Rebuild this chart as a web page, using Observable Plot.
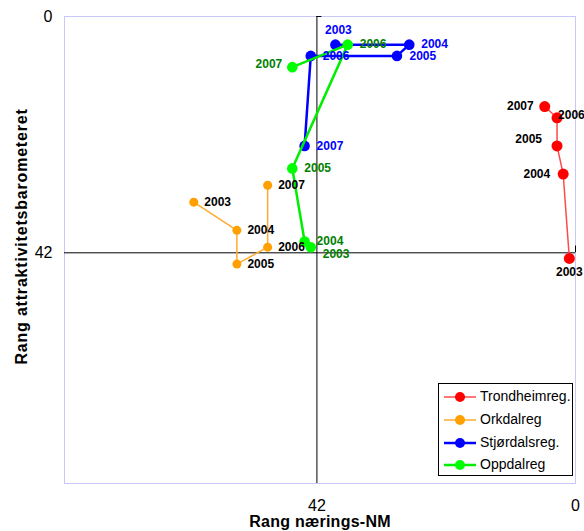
<!DOCTYPE html>
<html><head><meta charset="utf-8">
<script src="https://cdn.jsdelivr.net/npm/d3@7"></script>
<script src="https://cdn.jsdelivr.net/npm/@observablehq/plot@0.6"></script>
<style>
body{margin:0;background:#fff;font-family:"Liberation Sans",Arial,sans-serif;}
#wrap{position:relative;width:584px;height:531px;overflow:hidden;}
#legend{position:absolute;left:438px;top:383px;width:133px;height:91px;border:1px solid #000;background:#fff;}
.row{position:absolute;left:0;height:22px;width:133px;}
.row svg{position:absolute;left:4px;top:5px;}
.row span{position:absolute;left:41px;top:2px;font-size:14px;color:#000;white-space:nowrap;}
</style></head><body><div id="wrap"></div>
<script>
// ---- data ----
const years = [2003, 2004, 2005, 2006, 2007];
const regions = ["Trondheimreg.", "Orkdalreg", "Stjørdalsreg.", "Oppdalreg"];
// Rang nærings-NM (x) and Rang attraktivitetsbarometeret (y) per year
const trondheimNM   = [1, 2, 3, 3, 5];
const trondheimAttr = [43, 28, 23, 18, 16];
const orkdalNM      = [62, 55, 55, 50, 50];
const orkdalAttr    = [33, 38, 44, 41, 30];
const stjordalNM    = [39, 27, 29, 43, 44];
const stjordalAttr  = [5, 5, 7, 7, 23];
const oppdalNM      = [43, 44, 46, 37, 46];
const oppdalAttr    = [41, 40, 27, 5, 9];
const xTicks = [42, 0];
const yTicks = [0, 42];

// ---- styling ----
const styles = {
  "Trondheimreg.": {dot: "#ff0000", line: "#ff4a4a", lw: 1.5, r: 5.5, label: "#000000"},
  "Orkdalreg":     {dot: "#ffa000", line: "#ffab2e", lw: 1.5, r: 4.5, label: "#000000"},
  "Stjørdalsreg.": {dot: "#0000ff", line: "#0000ff", lw: 2.5, r: 5.3, label: "#0000ff"},
  "Oppdalreg":     {dot: "#00ff00", line: "#00ee00", lw: 2.5, r: 5.3, label: "#008000"}
};
// label offsets [dx, dy, anchor] per region, per year index
const labelOffsets = {
  "Trondheimreg.": [[0, 14, "middle"], [-13, 0, "end"], [-15, -7, "end"], [1, -3, "start"], [-11, 0, "end"]],
  "Orkdalreg":     [[10.5, 0, "start"], [10.5, 0, "start"], [10.5, 0, "start"], [10.5, 0, "start"], [10.5, 0, "start"]],
  "Stjørdalsreg.": [[3, -14, "middle"], [12, -0.5, "start"], [12.5, 0.5, "start"], [12, 0, "start"], [12, 0, "start"]],
  "Oppdalreg":     [[12, 7, "start"], [12, 0, "start"], [12, 0, "start"], [12, 0, "start"], [-10, -3, "end"]]
};

const seriesX = [trondheimNM, orkdalNM, stjordalNM, oppdalNM];
const seriesY = [trondheimAttr, orkdalAttr, stjordalAttr, oppdalAttr];
const data = regions.map((reg, i) => years.map((yr, j) => ({region: reg, year: yr, nm: seriesX[i][j], attr: seriesY[i][j], j})));

const font = '"Liberation Sans", Arial, sans-serif';
const marks = [
  Plot.frame({stroke: "#c8c8f8"}),
  Plot.ruleX([42], {stroke: "#000", strokeWidth: 1}),
  Plot.ruleY([42], {stroke: "#000", strokeWidth: 1}),
  Plot.ruleY([0], {x1: 42, x2: 41.2, stroke: "#000"}),
  Plot.ruleX([0], {y1: 42, y2: 40.8, stroke: "#000"}),
  Plot.axisX({anchor: "bottom", ticks: xTicks, tickSize: 0, tickPadding: 16, fontSize: 16, label: null, tickFormat: d => String(d), color: "#000"}),
  Plot.axisY({anchor: "left", ticks: yTicks, tickSize: 0, tickPadding: 12, fontSize: 16, label: null, tickFormat: d => String(d), color: "#000"}),
  Plot.text(["Rang nærings-NM"], {frameAnchor: "bottom", dy: 38.5, textAnchor: "middle", lineAnchor: "middle", fontWeight: "bold", fontSize: 16, fill: "#000"}),
  Plot.text(["Rang attraktivitetsbarometeret"], {frameAnchor: "left", dx: -43, dy: -13.5, textAnchor: "middle", lineAnchor: "middle", rotate: -90, fontWeight: "bold", fontSize: 16, fill: "#000"})
];
data.forEach(series => {
  const s = styles[series[0].region];
  marks.push(Plot.line(series, {x: "nm", y: "attr", stroke: s.line, strokeWidth: s.lw}));
  marks.push(Plot.dot(series, {x: "nm", y: "attr", r: s.r, fill: s.dot, stroke: "none"}));
});
data.forEach(series => {
  const s = styles[series[0].region];
  series.forEach(d => {
    const [dx, dy, anchor] = labelOffsets[d.region][d.j];
    marks.push(Plot.text([d], {x: "nm", y: "attr", text: d => String(d.year), dx, dy, textAnchor: anchor, fontWeight: "bold", fontSize: 12, fill: s.label}));
  });
});

const chart = Plot.plot({
  width: 584, height: 531,
  marginLeft: 64, marginRight: 9, marginTop: 16, marginBottom: 48,
  x: {domain: [83, 0]},
  y: {domain: [83, 0]},
  style: {fontFamily: font, background: "#fff", overflow: "visible", color: "#000"},
  marks
});
const wrap = document.getElementById("wrap");
wrap.appendChild(chart);
// letter spacing of the axis titles to match the reference widths
chart.querySelectorAll("text").forEach(t => {
  if (t.textContent === "Rang attraktivitetsbarometeret") t.style.letterSpacing = "0.8px";
  if (t.textContent === "Rang nærings-NM") t.style.letterSpacing = "0.25px";
});

// legend
const legend = document.createElement("div");
legend.id = "legend";
regions.forEach((reg, i) => {
  const s = styles[reg];
  const row = document.createElement("div");
  row.className = "row";
  row.style.top = (2 + i * 22.8) + "px";
  row.innerHTML = `<svg width="34" height="12"><line x1="1" y1="6" x2="33" y2="6" stroke="${s.line}" stroke-width="${s.lw}"/><circle cx="17" cy="6" r="5" fill="${s.dot}"/></svg><span>${reg}</span>`;
  legend.appendChild(row);
});
wrap.appendChild(legend);
</script></body></html>
